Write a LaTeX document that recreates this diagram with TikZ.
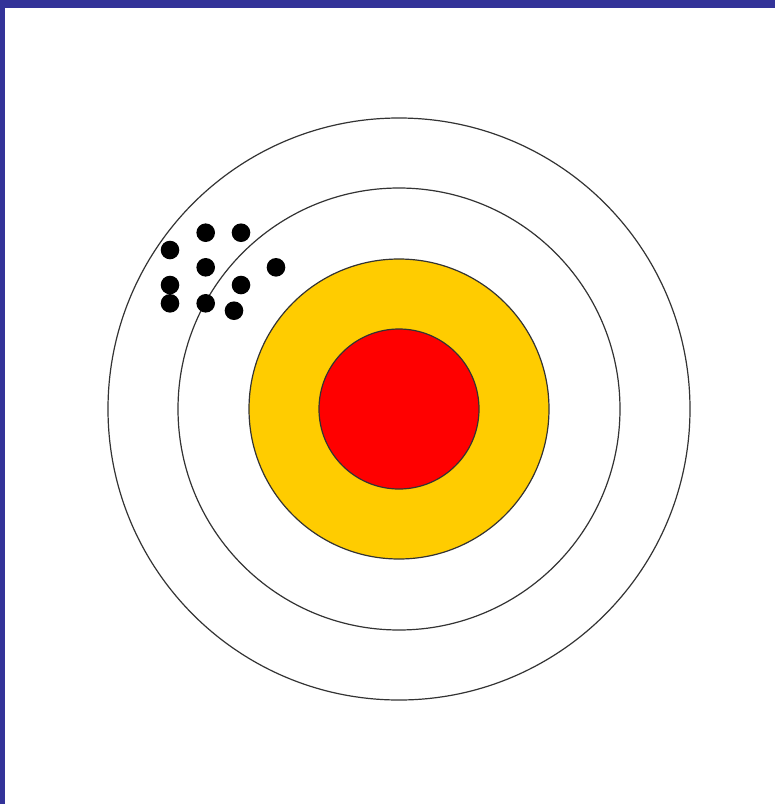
\documentclass[tikz,border=0pt]{standalone}
\definecolor{frameblue}{HTML}{333399}
\definecolor{ringyellow}{HTML}{FFCC00}
\definecolor{ringred}{HTML}{FF0000}
\definecolor{ringline}{HTML}{333333}
\begin{document}
\begin{tikzpicture}[x=1pt,y=-1pt,
  ring/.style={draw=ringline,line width=1.2pt},
  shot/.style={fill=black}]
\useasboundingbox (0,0) rectangle (775,804);
\fill[white] (0,0) rectangle (775,804);
\fill[frameblue] (0,0) rectangle (775,8);
\fill[frameblue] (0,0) rectangle (5,804);
\coordinate (c) at (399,409);
\draw[ring,fill=white] (c) circle[radius=291];
\draw[ring,fill=white] (c) circle[radius=221];
\draw[ring,fill=ringyellow] (c) circle[radius=150];
\draw[ring,fill=ringred] (c) circle[radius=80];
\foreach \p in {(205.7,232.7),(241,232.7),(170,250),(205.7,267.3),(276,267.3),(170,285),(241,285),(170,303.3),(205.7,303.3),(234,310.7)}
  \fill[shot] \p circle[radius=9.3];
\end{tikzpicture}
\end{document}
